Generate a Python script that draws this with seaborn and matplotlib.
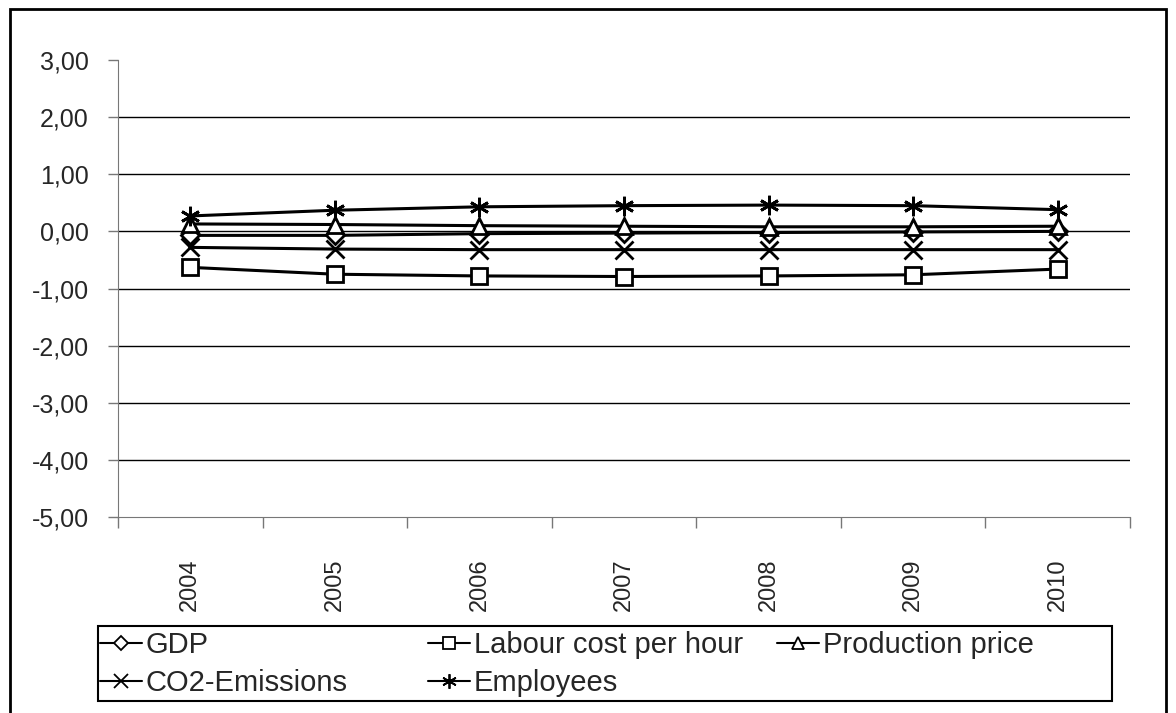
import matplotlib
matplotlib.use("Agg")
import matplotlib.pyplot as plt
from matplotlib.patches import Rectangle
from matplotlib.lines import Line2D
from matplotlib.ticker import FuncFormatter, FixedLocator
import pandas as pd
import seaborn as sns

years = ["2004", "2005", "2006", "2007", "2008", "2009", "2010"]
gdp = [-0.07, -0.07, -0.04, -0.03, -0.02, -0.01, 0.00]
labour_cost = [-0.63, -0.75, -0.78, -0.79, -0.78, -0.76, -0.66]
production_price = [0.13, 0.12, 0.10, 0.09, 0.08, 0.08, 0.09]
co2_emissions = [-0.28, -0.31, -0.32, -0.32, -0.32, -0.32, -0.32]
employees = [0.27, 0.37, 0.43, 0.45, 0.46, 0.45, 0.38]

series = [
    ("GDP", gdp, "D", 9),
    ("Labour cost per hour", labour_cost, "s", 12),
    ("Production price", production_price, "^", 12),
    ("CO2-Emissions", co2_emissions, "x", 13),
    ("Employees", employees, (6, 2, 0), 14),
]

sns.set_style("white")
plt.rcParams['font.family'] = ['Liberation Sans', 'DejaVu Sans']

W, H = 1176, 713
fig = plt.figure(figsize=(W / 100, H / 100), dpi=100)
ax = fig.add_axes([118 / W, 1 - 517 / H, (1130 - 118) / W, (517 - 60) / H])

hmap = {}
for name, vals, mk, ms in series:
    df = pd.DataFrame({"year": years, "value": vals})
    sns.lineplot(data=df, x="year", y="value", ax=ax, color="black", linewidth=2.2,
                 marker=mk, markersize=ms, markerfacecolor="white",
                 markeredgecolor="black", markeredgewidth=2)
    # smaller marker for the legend key, as in the original
    hmap[name] = Line2D([], [], color="black", linewidth=1.5, marker=mk,
                        markersize=ms * 0.75, markerfacecolor="white",
                        markeredgecolor="black", markeredgewidth=1.3)

ax.set_xlim(-0.5, len(years) - 0.5)
ax.set_ylim(-5, 3)
ax.set_xlabel("")
ax.set_ylabel("")

for v in range(-4, 3):
    ax.axhline(v, color="black", linewidth=1, zorder=0)

ax.yaxis.set_major_locator(FixedLocator(range(-5, 4)))
ax.yaxis.set_major_formatter(FuncFormatter(lambda v, p: f"{v:.2f}".replace(".", ",")))
ax.tick_params(axis="y", direction="out", length=7, width=1, color="#777777",
               labelsize=18, pad=14, left=True)

ax.set_xticks(range(len(years)))
ax.set_xticklabels(years, rotation=90)
ax.set_xticks([i - 0.5 for i in range(len(years) + 1)], minor=True)
ax.tick_params(axis="x", which="major", length=0, labelsize=17, pad=30)
ax.tick_params(axis="x", which="minor", direction="out", length=8, width=1,
               color="#777777", bottom=True)

for s in ["top", "right"]:
    ax.spines[s].set_visible(False)
ax.spines["left"].set_color("#777777")
ax.spines["bottom"].set_color("#777777")
ax.spines["bottom"].set_zorder(0)

cols = [(100, ["GDP", "CO2-Emissions"]),
        (428, ["Labour cost per hour", "Employees"]),
        (777, ["Production price"])]
for x0, names in cols:
    fig.legend([hmap[n] for n in names], names, loc="upper left",
               bbox_to_anchor=(x0 / W, 1 - 631 / H), frameon=False,
               fontsize=21, handlelength=1.45, handletextpad=0.12,
               borderpad=0, borderaxespad=0, labelspacing=0.35)

fig.patches.append(Rectangle((98 / W, 1 - 701 / H), (1112 - 98) / W, (701 - 626) / H,
                             transform=fig.transFigure, fill=False,
                             edgecolor="black", linewidth=1.5))
fig.patches.append(Rectangle((10 / W, -0.05), (1166 - 10) / W, 1.05 - 9 / H,
                             transform=fig.transFigure, fill=False,
                             edgecolor="black", linewidth=2))

fig.savefig("out.png", dpi=100)
